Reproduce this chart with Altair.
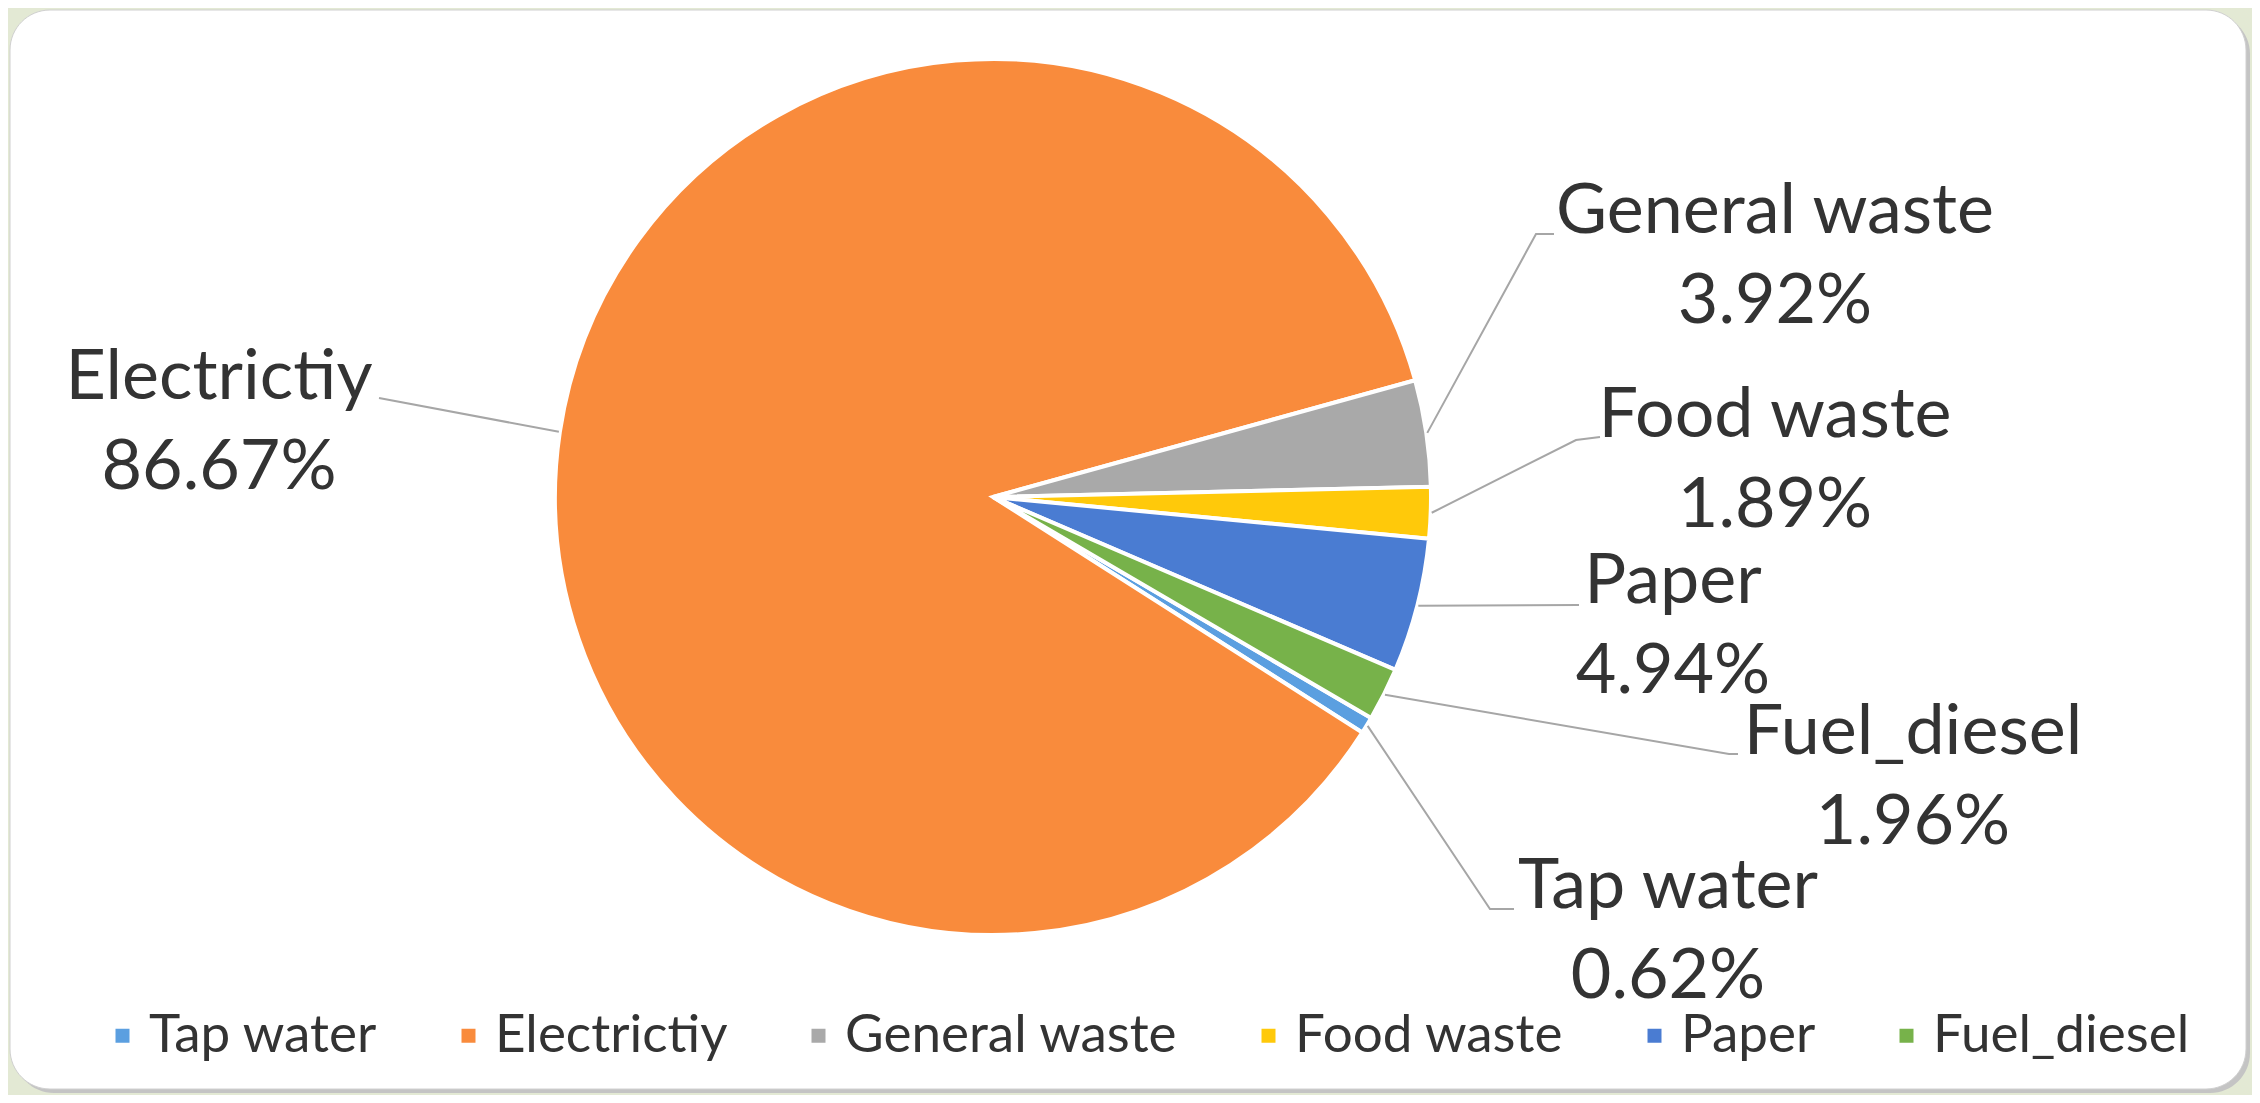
import math
import pandas as pd
import altair as alt

# ---- data ----
categories = ["Tap water", "Electrictiy", "General waste", "Food waste", "Paper", "Fuel_diesel"]
values = [0.62, 86.67, 3.92, 1.89, 4.94, 1.96]
colors = ["#5B9FE0", "#F98B3C", "#A9A9A9", "#FFC90A", "#4A7CD2", "#77B24A"]
pct_labels = [f"{v:.2f}%" for v in values]

# ---- layout (annotation placement, chart pixel space) ----
W, H = 2244, 1087
CX, CY, R = 985, 489, 438
START = math.radians(120.3)          # first slice starts at ~4 o'clock
LINE_GAP = 90
label_anchor = {                      # centre x, baseline of first line
    "Electrictiy": (211, 391),
    "General waste": (1767, 225),
    "Food waste": (1767, 429),
    "Paper": (1665, 595),
    "Fuel_diesel": (1905, 746),
    "Tap water": (1660, 900),
}
leader_tail = {                       # elbow / end of leader lines near labels
    "Electrictiy": [(371, 390)],
    "General waste": [(1528, 226), (1546, 226)],
    "Food waste": [(1568, 432), (1592, 429)],
    "Paper": [(1571, 597)],
    "Fuel_diesel": [(1721, 746), (1730, 746)],
    "Tap water": [(1482, 901), (1506, 901)],
}

pie_df = pd.DataFrame({"category": categories, "value": values, "idx": list(range(len(values)))})

# leader lines: start at slice mid-angle on the rim (derived from values)
total = sum(values)
rows = []
cum = 0.0
for cat, v in zip(categories, values):
    mid = START + 2 * math.pi * (cum + v / 2) / total
    cum += v
    pts = [(CX + (R + 1) * math.sin(mid), CY - (R + 1) * math.cos(mid))] + leader_tail[cat]
    for k, (px, py) in enumerate(pts):
        rows.append({"category": cat, "k": k, "x": px, "y": py})
leader_df = pd.DataFrame(rows)

text_rows = []
for cat, p in zip(categories, pct_labels):
    ax, ay = label_anchor[cat]
    text_rows.append({"category": cat, "text": cat, "x": ax, "y": ay})
    text_rows.append({"category": cat, "text": p, "x": ax, "y": ay + LINE_GAP})
text_df = pd.DataFrame(text_rows)

FONT = "Lato"
TXT = "#333333"

bg_df = pd.DataFrame({"a": [0]})
shadow = alt.Chart(bg_df).mark_rect(cornerRadius=40, fill="#c4c4c4").encode(
    x=alt.value(6), x2=alt.value(W - 2), y=alt.value(6), y2=alt.value(H - 2)
)
panel = alt.Chart(bg_df).mark_rect(cornerRadius=40, fill="white", stroke="#d0d0d0", strokeWidth=1).encode(
    x=alt.value(2), x2=alt.value(W - 6), y=alt.value(2), y2=alt.value(H - 6)
)

pie = alt.Chart(pie_df).mark_arc(outerRadius=R, stroke="white", strokeWidth=4).encode(
    theta=alt.Theta("value:Q", stack=True, scale=alt.Scale(range=[START, START + 2 * math.pi])),
    color=alt.Color(
        "category:N",
        sort=categories,
        scale=alt.Scale(domain=categories, range=colors),
        legend=alt.Legend(
            title=None,
            orient="none",
            direction="horizontal",
            legendX=88,
            legendY=1001,
            symbolType="square",
            symbolSize=196,
            symbolStrokeWidth=0,
            labelFont=FONT,
            labelFontSize=53,
            labelColor=TXT,
            labelOffset=0,
            columnPadding=64,
            labelLimit=0,
            padding=0,
        ),
    ),
    order=alt.Order("idx:Q"),
    x=alt.value(CX),
    y=alt.value(CY),
)

leaders = alt.Chart(leader_df).mark_line(color="#a6a6a6", strokeWidth=2).encode(
    x=alt.X("x:Q", scale=None, axis=None),
    y=alt.Y("y:Q", scale=None, axis=None),
    detail="category:N",
    order="k:Q",
)

labels = alt.Chart(text_df).mark_text(
    font=FONT, fontSize=70, color=TXT, align="center", baseline="alphabetic"
).encode(
    x=alt.X("x:Q", scale=None, axis=None),
    y=alt.Y("y:Q", scale=None, axis=None),
    text="text:N",
)

chart = (
    alt.layer(shadow, panel, pie, leaders, labels)
    .resolve_scale(color="independent")
    .properties(width=W, height=H, padding=0, autosize=alt.AutoSizeParams(type="none"), background="#e3e9d4")
    .configure_view(stroke=None)
)

chart.save("out.html", embed_options={"renderer": "svg", "actions": False})
